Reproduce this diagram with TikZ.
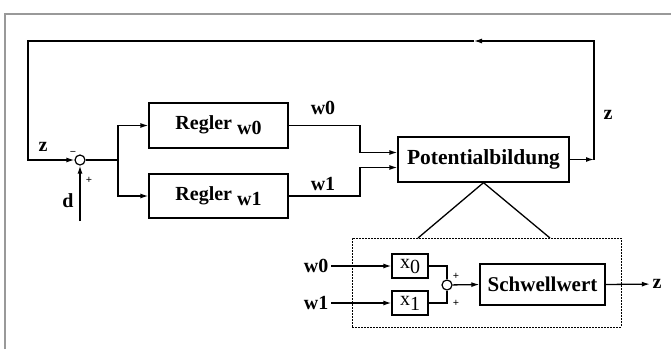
\documentclass[tikz,border=0pt]{standalone}
\usepackage{fontspec}
\setmainfont{Liberation Serif}
\usetikzlibrary{arrows.meta}
\begin{document}
\begin{tikzpicture}[x=1pt,y=-1pt,line width=1.3pt,
  >={Latex[length=8pt,width=5pt]},
  blk/.style={draw,inner sep=0pt,font=\fontsize{20}{22}\selectfont\bfseries},
  xblk/.style={draw,inner sep=0pt,minimum width=36pt,minimum height=24pt,font=\fontsize{20}{20}\selectfont},
  lbl/.style={inner sep=2pt,font=\fontsize{20}{22}\selectfont\bfseries},
  sgn/.style={inner sep=0pt,font=\fontsize{11}{11}\selectfont\bfseries},
  sumj/.style={draw,circle,inner sep=0pt,minimum size=10pt,line width=1.2pt},
  frame/.style={draw=black!40,line width=1.2pt}]
\useasboundingbox (0,0) rectangle (671,349);
% outer frame
\draw[frame] (5,349) -- (5,14) -- (671,14);
% blocks
\node[blk,minimum width=139pt,minimum height=45pt] (r0) at (218.5,125.5) {Regler \raisebox{-5pt}{w0}};
\node[blk,minimum width=139pt,minimum height=44pt] (r1) at (218.5,196) {Regler \raisebox{-5pt}{w1}};
\node[blk,minimum width=171pt,minimum height=45pt,font=\fontsize{21.5}{22}\selectfont\bfseries] (pot) at (483.5,159.5) {Potentialbildung};
\node[draw,line width=1pt,dash pattern=on 2pt off 1pt,minimum width=269pt,minimum height=89pt,inner sep=0pt] (dbox) at (486.5,282.5) {};
\node[xblk] (x0) at (410,266) {x\raisebox{-5pt}{0}};
\node[xblk] (x1) at (410,303) {x\raisebox{-5pt}{1}};
\node[blk,minimum width=125pt,minimum height=41pt,font=\fontsize{21}{22}\selectfont\bfseries] (sw) at (542.5,284.5) {Schwellwert};
% summing junctions
\node[sumj] (s1) at (80,160) {};
\node[sumj] (s2) at (447,285) {};
% labels
\node[lbl] (lz1) at (43,147) {z};
\node[lbl] (ld) at (68,201) {d};
\node[lbl] (lw0) at (323,108) {w0};
\node[lbl] (lw1) at (323,184) {w1};
\node[lbl] (lz2) at (608,115) {z};
\node[lbl,anchor=east] (iw0) at (331,266) {w0};
\node[lbl,anchor=east] (iw1) at (331,303) {w1};
\node[lbl] (zo) at (657,284) {z};
\node[sgn] (m1) at (73,153) {−};
\node[sgn] (p1) at (89,180) {+};
\node[sgn] (p2) at (456,276) {+};
\node[sgn] (p3) at (456,303) {+};
% coordinates
\coordinate (fbB) at (594,159.5);
\coordinate (fbR) at (594,41);
\coordinate (fbA) at (474,41);
\coordinate (fbL) at (28,41);
\coordinate (fbLB) at (28,160);
\coordinate (dB) at (80,221);
\coordinate (br) at (118,160);
\coordinate (m0) at (360,125.5);
\coordinate (m1c) at (360,196);
\coordinate (p0) at ([yshift=7pt]pot.west);
\coordinate (pp1) at ([yshift=-8pt]pot.west);
\coordinate (tl) at (418,238);
\coordinate (tr) at (550,238);
% feedback loop
\draw[->] (pot.east) -- (fbB);
\draw[->] (fbB) -- (fbR) -- (fbA);
\draw[->] (fbA) -- (fbL) -- (fbLB) -- (s1);
\draw[->] (dB) -- (s1);
\draw (s1) -- (br);
\draw[->] (br) |- (r0.west);
\draw[->] (br) |- (r1.west);
\draw[->] (r0.east) -- (m0) |- (p0);
\draw[->] (r1.east) -- (m1c) |- (pp1);
% zoom triangle
\draw (tl) -- (pot.south) -- (tr);
% inner detail
\draw[->] (iw0) -- (x0);
\draw[->] (iw1) -- (x1);
\draw (x0.east) -| (s2);
\draw (x1.east) -| (s2);
\draw[->] (s2) -- (sw.west);
\draw[->] (sw.east) -- (zo);
\end{tikzpicture}
\end{document}
